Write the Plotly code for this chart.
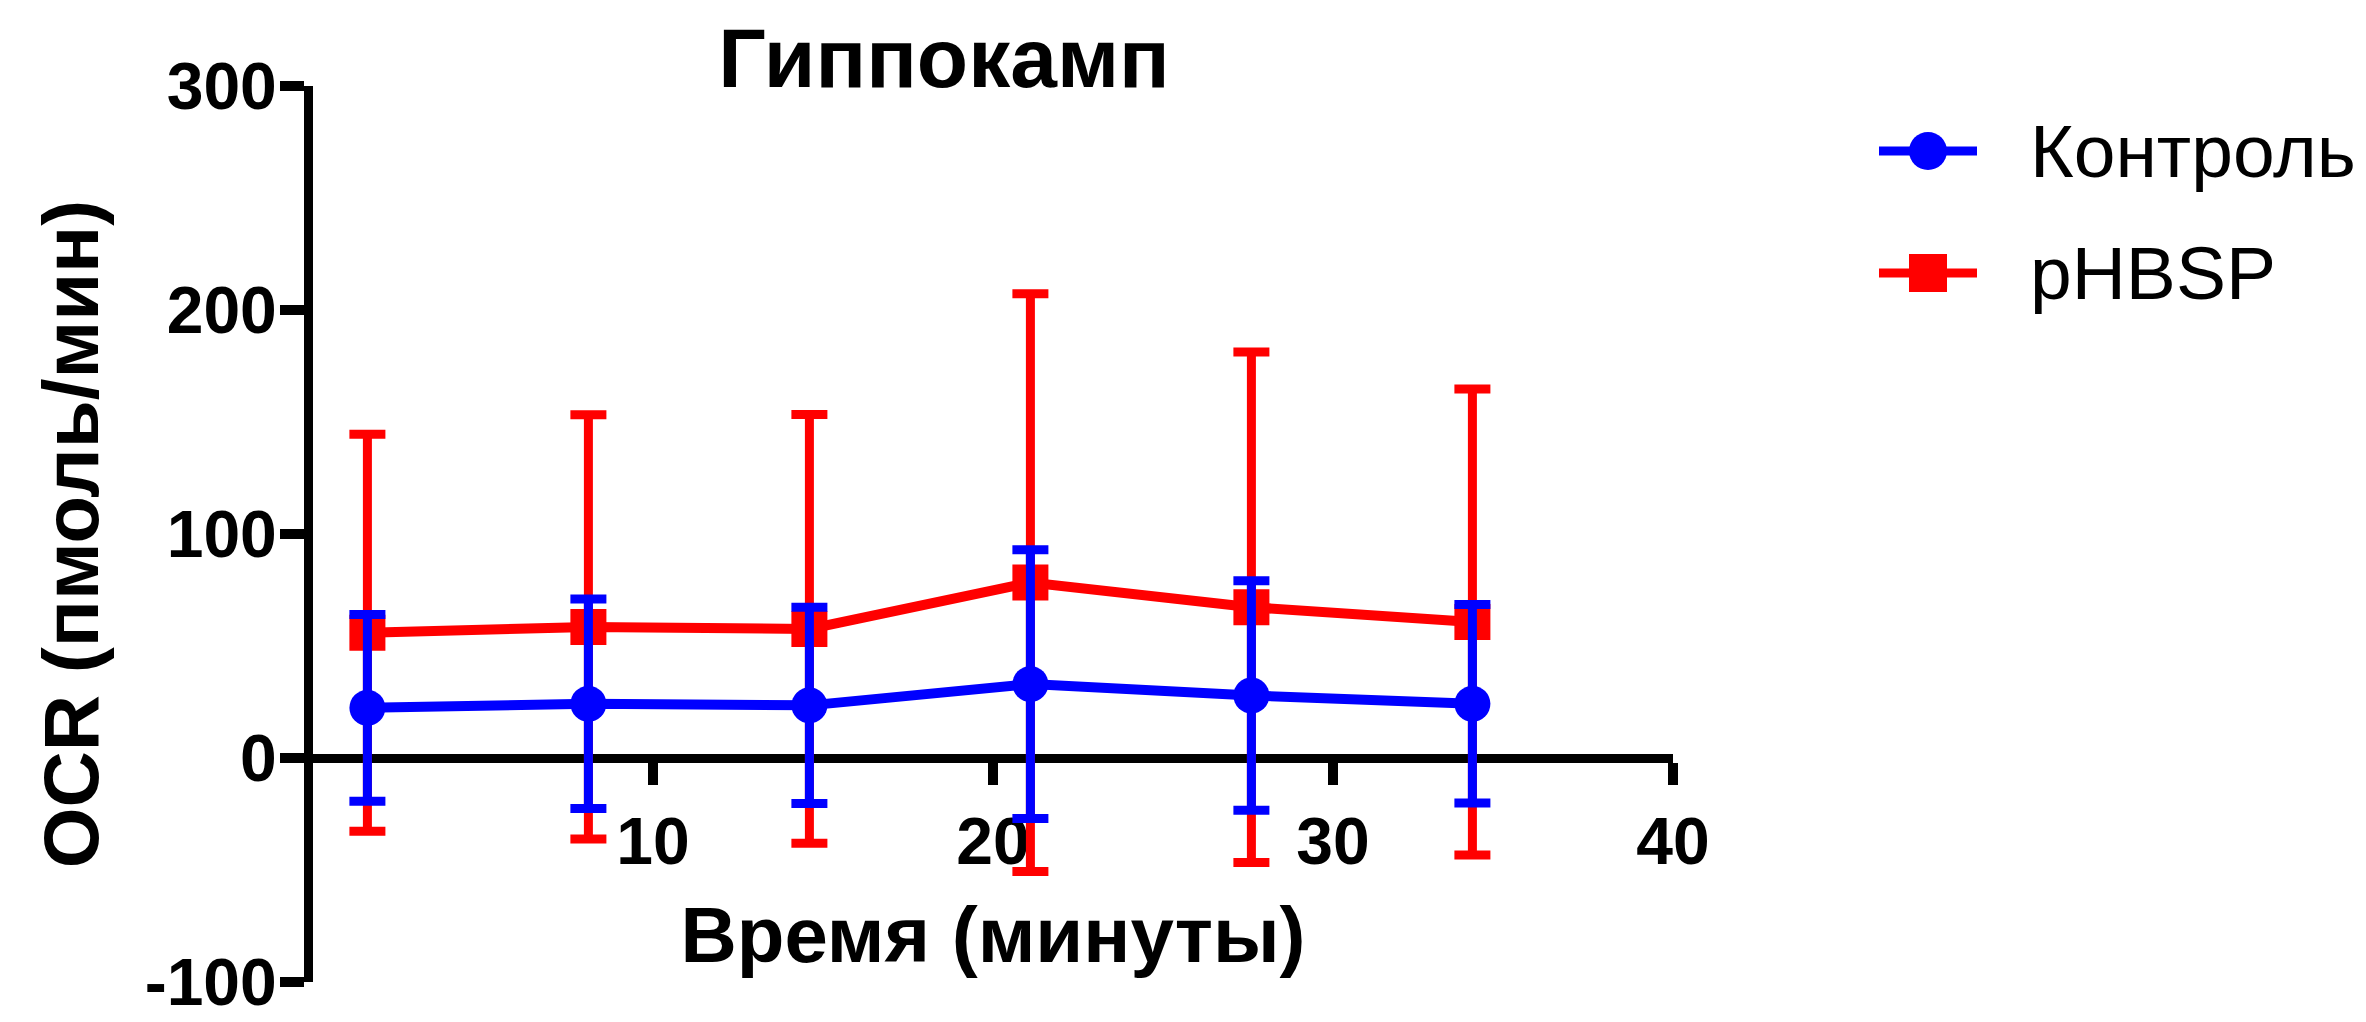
import plotly.graph_objects as go

# Measurement times (minutes)
time_min = [1.6, 8.1, 14.6, 21.1, 27.6, 34.1]

# Oxygen consumption rate, mean and error (pmol/min)
control_ocr = [22.4, 24.2, 23.5, 33.0, 27.9, 24.2]
control_err = [41.7, 46.8, 43.8, 60.0, 51.2, 44.3]

phbsp_ocr = [55.9, 58.5, 57.6, 78.3, 67.3, 60.7]
phbsp_err = [88.6, 94.7, 95.7, 129.0, 114.0, 104.0]

series_names = ["Контроль", "pHBSP"]
series_colors = ["#0000ff", "#ff0000"]
series_symbols = ["circle", "square"]

x_ticks = [10, 20, 30, 40]
y_ticks = [-100, 0, 100, 200, 300]

FONT = "Liberation Sans, Arial, sans-serif"

W, H = 2366, 1022
M_L, M_R, M_T, M_B = 313, 693, 86, 40
PLOT_W = W - M_L - M_R
PLOT_H = H - M_T - M_B


def paper_x(px):
    return (px - M_L) / PLOT_W


def paper_y(py):
    return (H - M_B - py) / PLOT_H


fig = go.Figure()

series = [
    (control_ocr, control_err),
    (phbsp_ocr, phbsp_err),
]

# draw the second series first so the control series sits on top
for idx in reversed(range(len(series))):
    y, err = series[idx]
    color = series_colors[idx]
    fig.add_trace(go.Scatter(
        x=time_min, y=y, name=series_names[idx], mode="lines+markers",
        line=dict(color=color, width=10),
        marker=dict(symbol=series_symbols[idx], size=36, color=color),
        error_y=dict(type="data", array=err, visible=True,
                     color=color, thickness=9, width=18),
        showlegend=False, cliponaxis=False,
    ))

# legend: line sample with a large marker, then the series name
shapes = []
annotations = []
legend_rows = [151, 273]
for idx, row in enumerate(legend_rows):
    color = series_colors[idx]
    cx, cy = paper_x(1928), paper_y(row)
    shapes.append(dict(
        type="line", xref="paper", yref="paper",
        xsizemode="pixel", xanchor=cx, x0=-49, x1=49, y0=cy, y1=cy,
        line=dict(color=color, width=9),
    ))
    shapes.append(dict(
        type="circle" if series_symbols[idx] == "circle" else "rect",
        xref="paper", yref="paper",
        xsizemode="pixel", ysizemode="pixel", xanchor=cx, yanchor=cy,
        x0=-19, x1=19, y0=-19, y1=19,
        fillcolor=color, line=dict(width=0),
    ))
    annotations.append(dict(
        text=series_names[idx], xref="paper", yref="paper",
        x=paper_x(2028), y=cy, xanchor="left", yanchor="middle",
        showarrow=False, font=dict(size=75, family=FONT, color="black"),
    ))

fig.update_layout(
    width=W, height=H,
    margin=dict(l=M_L, r=M_R, t=M_T, b=M_B, autoexpand=False),
    paper_bgcolor="white", plot_bgcolor="white",
    font=dict(family=FONT, color="black"),
    title=dict(
        text="<b>Гиппокамп</b>", font=dict(size=84, family=FONT, color="black"),
        x=0.399, xanchor="center", y=0.944, yanchor="middle",
    ),
    showlegend=False,
    shapes=shapes,
    annotations=annotations,
    xaxis=dict(
        range=[0, 40], tickvals=x_ticks, ticktext=[str(v) for v in x_ticks],
        showline=True, linecolor="black", linewidth=9,
        ticks="outside", ticklen=22, tickwidth=10, tickcolor="black",
        tickfont=dict(size=66, family=FONT, color="black", weight="bold"),
        showgrid=False, zeroline=False, automargin=False,
        anchor="free", position=0.25, layer="below traces",
        title=dict(text="<b>Время (минуты)</b>",
                   font=dict(size=78, family=FONT, color="black"), standoff=30),
    ),
    yaxis=dict(
        range=[-100, 300], tickvals=y_ticks, ticktext=[str(v) for v in y_ticks],
        showline=True, linecolor="black", linewidth=9,
        ticks="outside", ticklen=24, tickwidth=10, tickcolor="black",
        tickfont=dict(size=66, family=FONT, color="black", weight="bold"),
        ticklabeloverflow="allow", ticklabelstandoff=-10,
        showgrid=False, zeroline=False, automargin=False, layer="below traces",
        title=dict(text="<b>OCR (пмоль/мин)</b>",
                   font=dict(size=78, family=FONT, color="black"), standoff=24),
    ),
)

fig.write_html("out.html")
